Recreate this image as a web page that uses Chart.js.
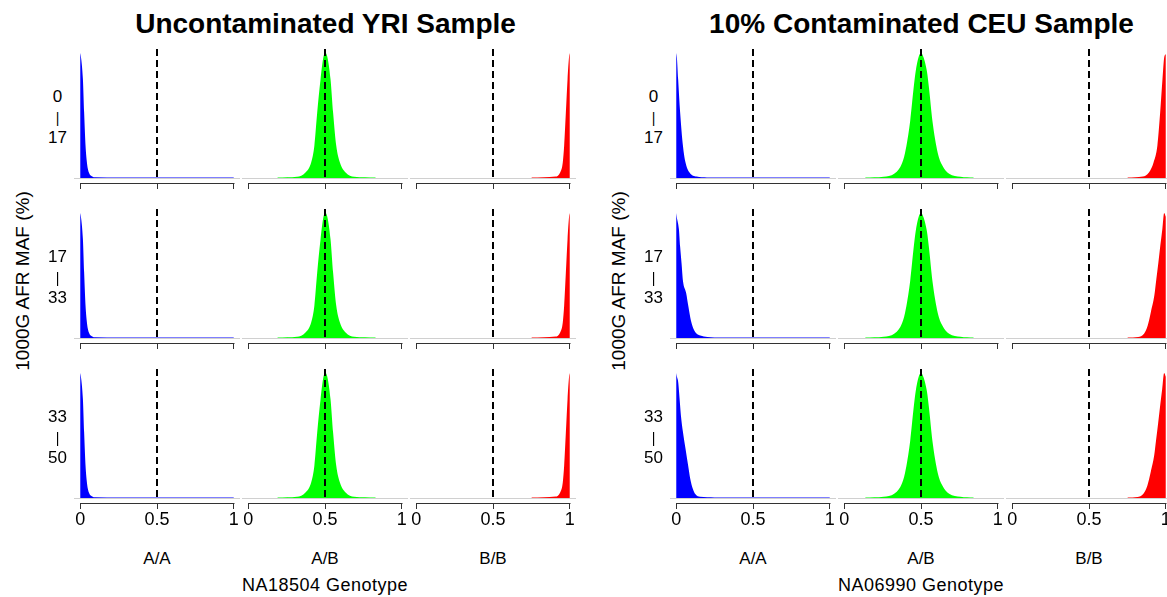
<!DOCTYPE html>
<html><head><meta charset="utf-8">
<script src="https://cdn.jsdelivr.net/npm/chart.js@4.4.1/dist/chart.umd.min.js"></script>
<style>
html,body{margin:0;padding:0;background:#fff;width:1167px;height:597px;overflow:hidden;position:relative;font-family:"Liberation Sans",Arial,Helvetica,sans-serif;color:#000}
canvas{position:absolute}
.t{position:absolute;white-space:nowrap;transform:translate(-50%,-50%);line-height:1}
</style></head><body>
<script>
// ---------- text / categories ----------
const panelTitles = ['Uncontaminated YRI Sample', '10% Contaminated CEU Sample'];
const sampleNames = ['NA18504 Genotype', 'NA06990 Genotype'];
const yAxisTitle = '1000G AFR MAF (%)';
const genotypes = ['A/A', 'A/B', 'B/B'];
const mafBreaks = ['0', '17', '33', '50'];
const xTicks = [0, 0.5, 1];
const refLine = 0.5;
const genoColors = ['#0000ff', '#00ff00', '#ff0000'];

// ---------- density curves (allele fraction, scaled density) ----------
// Uncontaminated YRI sample (same shape in each MAF bin)
const yriAA_x = [0, 0.005, 0.018, 0.026, 0.035, 0.044, 0.057, 0.076, 0.1, 0.25, 0.5, 0.75, 1.0];
const yriAA_y = [1.0, 0.97, 0.79, 0.525, 0.26, 0.125, 0.045, 0.015, 0.006, 0.004, 0.004, 0.004, 0.004];
const yriAB_x = [0.19, 0.318, 0.373, 0.41, 0.431, 0.449, 0.471, 0.49, 0.503, 0.515, 0.536, 0.553, 0.573, 0.597, 0.634, 0.69, 0.83];
const yriAB_y = [0.004, 0.01, 0.045, 0.125, 0.26, 0.52, 0.79, 0.97, 1.0, 0.97, 0.79, 0.52, 0.26, 0.125, 0.045, 0.01, 0.004];
const yriBB_x = [0.75, 0.908, 0.937, 0.954, 0.963, 0.974, 0.985, 0.995, 1.0];
const yriBB_y = [0.004, 0.012, 0.045, 0.125, 0.26, 0.525, 0.79, 0.97, 1.0];

// 10% contaminated CEU sample
const ceuAA1_x = [0, 0.005, 0.013, 0.026, 0.044, 0.061, 0.087, 0.133, 0.2, 0.5, 1.0];
const ceuAA1_y = [1.0, 0.96, 0.79, 0.525, 0.26, 0.125, 0.045, 0.012, 0.005, 0.004, 0.004];
const ceuAA2_x = [0, 0.005, 0.018, 0.026, 0.035, 0.044, 0.065, 0.08, 0.096, 0.118, 0.157, 0.25, 0.5, 1.0];
const ceuAA2_y = [1.0, 0.96, 0.87, 0.73, 0.60, 0.46, 0.36, 0.25, 0.14, 0.06, 0.02, 0.005, 0.004, 0.004];
const ceuAA3_x = [0, 0.005, 0.013, 0.022, 0.031, 0.044, 0.061, 0.078, 0.092, 0.109, 0.126, 0.155, 0.25, 0.5, 1.0];
const ceuAA3_y = [1.0, 0.97, 0.93, 0.80, 0.66, 0.53, 0.395, 0.26, 0.153, 0.073, 0.03, 0.01, 0.005, 0.004, 0.004];
const ceuAB_x = [0.137, 0.257, 0.326, 0.37, 0.396, 0.43, 0.452, 0.465, 0.485, 0.5, 0.515, 0.539, 0.552, 0.574, 0.609, 0.639, 0.683, 0.757, 0.843];
const ceuAB_y = [0.004, 0.01, 0.034, 0.10, 0.20, 0.46, 0.72, 0.85, 0.97, 1.0, 0.97, 0.85, 0.72, 0.46, 0.20, 0.10, 0.034, 0.01, 0.004];
const ceuBB1_x = [0.75, 0.85, 0.89, 0.92, 0.945, 0.963, 0.978, 0.99, 1.0];
const ceuBB1_y = [0.004, 0.012, 0.045, 0.125, 0.26, 0.525, 0.79, 0.97, 0.99];
const ceuBB2_x = [0.75, 0.82, 0.858, 0.882, 0.903, 0.925, 0.938, 0.951, 0.964, 0.977, 0.989, 1.0];
const ceuBB2_y = [0.004, 0.008, 0.034, 0.10, 0.21, 0.34, 0.47, 0.60, 0.74, 0.87, 1.0, 0.97];
const ceuBB3_x = [0.75, 0.815, 0.854, 0.88, 0.902, 0.924, 0.937, 0.95, 0.963, 0.976, 0.989, 1.0];
const ceuBB3_y = [0.004, 0.008, 0.034, 0.10, 0.21, 0.34, 0.47, 0.60, 0.74, 0.87, 1.0, 0.97];

// panels[p][row][col] = [xs, ys]
const panels = [
  [
    [[yriAA_x, yriAA_y], [yriAB_x, yriAB_y], [yriBB_x, yriBB_y]],
    [[yriAA_x, yriAA_y], [yriAB_x, yriAB_y], [yriBB_x, yriBB_y]],
    [[yriAA_x, yriAA_y], [yriAB_x, yriAB_y], [yriBB_x, yriBB_y]]
  ],
  [
    [[ceuAA1_x, ceuAA1_y], [ceuAB_x, ceuAB_y], [ceuBB1_x, ceuBB1_y]],
    [[ceuAA2_x, ceuAA2_y], [ceuAB_x, ceuAB_y], [ceuBB2_x, ceuBB2_y]],
    [[ceuAA3_x, ceuAA3_y], [ceuAB_x, ceuAB_y], [ceuBB3_x, ceuBB3_y]]
  ]
];

// ---------- layout ----------
const PANEL_DX = 596, COL_DX = 168, ROW_DY = 160.2;
const CAN_L0 = 74, CAN_T0 = 48, CAN_W = 166, PLOT_H = 135, AXIS_H = 30;
const FONT = '"Liberation Sans", Arial, Helvetica, sans-serif';

function addText(txt, x, y, css) {
  const d = document.createElement('div');
  d.className = 't';
  d.textContent = txt;
  d.style.left = x + 'px';
  d.style.top = y + 'px';
  Object.assign(d.style, css || {});
  document.body.appendChild(d);
  return d;
}

const decor = {
  id: 'decor',
  beforeDatasetsDraw(chart) {
    const { ctx, chartArea: a, scales: { y } } = chart;
    const y0 = y.getPixelForValue(0) + 0.5;
    ctx.save();
    ctx.strokeStyle = '#d0d0d0';
    ctx.lineWidth = 1.2;
    ctx.beginPath(); ctx.moveTo(a.left, y0); ctx.lineTo(a.right, y0); ctx.stroke();
    ctx.restore();
  },
  afterDatasetsDraw(chart) {
    const { ctx, chartArea: a, scales: { x } } = chart;
    const xr = Math.round(x.getPixelForValue(refLine));
    ctx.save();
    ctx.strokeStyle = '#000';
    ctx.lineWidth = 2;
    ctx.setLineDash([7, 4]);
    ctx.beginPath(); ctx.moveTo(xr, a.top + 1); ctx.lineTo(xr, a.bottom - 4); ctx.stroke();
    ctx.setLineDash([]);
    ctx.strokeStyle = '#333';
    ctx.lineWidth = 1;
    const yb = a.bottom + 0.5;
    ctx.beginPath();
    ctx.moveTo(Math.round(x.getPixelForValue(xTicks[0])) + 0.5, yb);
    ctx.lineTo(Math.round(x.getPixelForValue(xTicks[xTicks.length - 1])) + 0.5, yb);
    ctx.stroke();
    ctx.restore();
  }
};

panels.forEach((rows, p) => {
  rows.forEach((cols, r) => {
    cols.forEach((curve, c) => {
      const cv = document.createElement('canvas');
      cv.width = CAN_W; cv.height = PLOT_H + AXIS_H;
      cv.style.left = (CAN_L0 + p * PANEL_DX + c * COL_DX) + 'px';
      cv.style.top = Math.round(CAN_T0 + r * ROW_DY) + 'px';
      document.body.appendChild(cv);
      const bottomRow = r === rows.length - 1;
      const pts = curve[0].map((xv, i) => ({ x: xv, y: curve[1][i] }));
      new Chart(cv, {
        type: 'line',
        data: { datasets: [{
          data: pts,
          backgroundColor: genoColors[c],
          borderColor: 'transparent',
          borderWidth: 0,
          pointRadius: 0,
          fill: 'origin',
          cubicInterpolationMode: 'monotone'
        }] },
        options: {
          responsive: false, animation: false, devicePixelRatio: 1,
          layout: { padding: 0, autoPadding: false },
          plugins: { legend: { display: false }, tooltip: { enabled: false } },
          events: [],
          scales: {
            x: {
              type: 'linear', min: -0.04, max: 1.04,
              afterBuildTicks: s => { s.ticks = xTicks.map(v => ({ value: v })); },
              afterFit: s => { s.height = AXIS_H; },
              border: { display: false },
              grid: { display: true, drawOnChartArea: false, drawTicks: true, tickLength: 6, color: '#333', lineWidth: 1 },
              ticks: {
                display: bottomRow, autoSkip: false, maxRotation: 0, padding: 0,
                color: '#000', font: { size: 18, family: FONT },
                callback: v => String(v)
              }
            },
            y: { type: 'linear', display: false, min: -0.04, max: 1.04 }
          }
        },
        plugins: [decor]
      });
    });
  });

  const off = p * PANEL_DX;
  addText(panelTitles[p], 325.5 + off, 24, { fontSize: '28px', fontWeight: 'bold' });
  addText(yAxisTitle, 22 + off, 281, { fontSize: '19px', transform: 'translate(-50%,-50%) rotate(-90deg)' });
  for (let r = 0; r < 3; r++) {
    const dy = r * ROW_DY;
    addText(mafBreaks[r], 57.5 + off, 95.5 + dy, { fontSize: '17px' });
    addText('|', 57.5 + off, 117.5 + dy, { fontSize: '14px' });
    addText(mafBreaks[r + 1], 57.5 + off, 136.7 + dy, { fontSize: '17px' });
  }
  genotypes.forEach((g, c) => addText(g, 157 + off + c * COL_DX, 557.5, { fontSize: '17px' }));
  addText(sampleNames[p], 325 + off, 585, { fontSize: '18px', letterSpacing: '0.5px' });
});
</script>
</body></html>
